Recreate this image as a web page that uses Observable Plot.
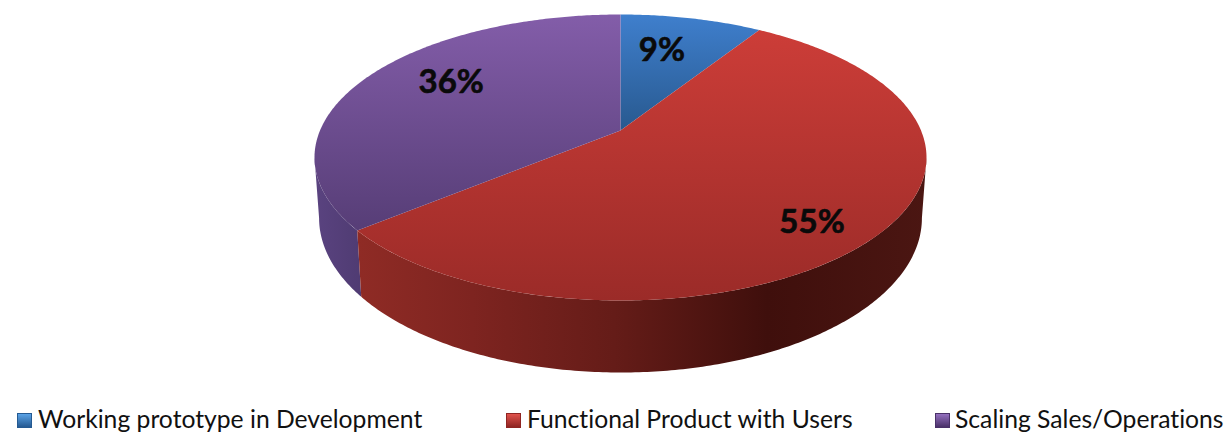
<!DOCTYPE html>
<html>
<head>
<meta charset="utf-8">
<script src="https://cdn.jsdelivr.net/npm/d3@7"></script>
<script src="https://cdn.jsdelivr.net/npm/@observablehq/plot@0.6"></script>
<style>
html,body{margin:0;padding:0;background:#fff;overflow:hidden}
#chart svg{display:block}
#legend{position:relative;height:33px;width:1224px;font-family:Lato,sans-serif;font-size:24.7px;color:#111;font-variant-ligatures:none}
.sw{position:absolute;top:13px;width:15px;height:15px;box-sizing:border-box}
.lb{position:absolute;top:2px;line-height:33px;white-space:nowrap}
</style>
</head>
<body>
<div id="chart"></div>
<div id="legend"></div>
<script>
const categories = ["Working prototype in Development", "Functional Product with Users", "Scaling Sales/Operations"];
const shares = [9, 55, 36];
const labels = ["9%", "55%", "36%"];
const topColors = [["#3f7fcd", "#28598f"], ["#cc3d38", "#9b2b28"], ["#835da9", "#563d76"]];
const gradientSpans = [[14, 130], [30, 300], [14, 232]];
const rimColors = ["#4a8ad6", "#d0544e", "#7f67b4"];
const labelNudge = [[-14, 7], [5, 16], [23, -7]];
const legendX = [[17, 38], [506, 527], [935, 955]];
const swatchColors = [["#5aa2e6", "#255a92"], ["#e0524c", "#8f2522"], ["#9470bf", "#4a3169"]];

// perspective view of the pie disc
const view = {cx: 620, cy: 130, a: 300.5, b: 137.9, k: 0.1888, depth: 72, shrink: 0.985};
const W = 1224, H = 400;
const project = (theta, r = 1) => {
  const u = r * Math.sin(theta), v = r * Math.cos(theta), d = 1 + view.k * v;
  return {x: view.cx + view.a * u / d, y: view.cy - view.b * v / d, d};
};
const lower = (theta) => {
  const p = project(theta);
  return {x: view.cx + (p.x - view.cx) * view.shrink, y: p.y + view.depth * (1 - view.k) / p.d};
};
const arcPts = (t0, t1, f = project) => {
  const n = Math.max(2, Math.ceil(Math.abs(t1 - t0) * 90));
  return d3.range(n + 1).map(i => f(t0 + (t1 - t0) * i / n));
};
const arcs = d3.pie().sort(null).value(d => d)(shares);
const discs = arcs.map(a => [project(0, 0), ...arcPts(a.startAngle, a.endAngle)]);

// visible wall runs between the two silhouette tangents of the disc
const tangentR = Math.PI - Math.acos(view.k);
const tangentL = 2 * Math.PI - tangentR;
const wall = (t0, t1) => [...arcPts(t0, t1), ...arcPts(t1, t0, lower)];
const split = arcs[2].startAngle;
const wallRed = wall(tangentR, split);
const wallPurple = wall(split, tangentL);
const bottomEdge = arcPts(tangentR, tangentL, lower);

const lineOpts = {x: "x", y: "y", curve: "linear"};
const marks = [
  Plot.line(bottomEdge, {...lineOpts, stroke: "#555", strokeWidth: 5, strokeOpacity: 0.45, ariaLabel: "shadow"}),
  Plot.line(wallPurple, {...lineOpts, fill: "url(#wallPurple)", stroke: "none"}),
  Plot.line(wallRed, {...lineOpts, fill: "url(#wallRed)", stroke: "none"}),
  ...discs.map((pts, i) => Plot.line(pts, {...lineOpts, fill: `url(#top${i})`, stroke: "none"})),
  Plot.line(arcPts(tangentR + 0.3, split), {...lineOpts, stroke: rimColors[1], strokeWidth: 2.5, strokeOpacity: 0.7, ariaLabel: "rim"}),
  Plot.line(arcPts(split, tangentL + 0.3), {...lineOpts, stroke: rimColors[2], strokeWidth: 2.5, strokeOpacity: 0.8, ariaLabel: "rim"}),
  ...arcs.map((a, i) => {
    const p = project((a.startAngle + a.endAngle) / 2, 0.75);
    return Plot.text([labels[i]], {
      x: () => p.x, y: () => p.y, text: d => d,
      dx: labelNudge[i][0], dy: labelNudge[i][1],
      fontSize: 33, fontWeight: 700, fontFamily: "Lato, sans-serif", fill: "#0a0a0a",
      stroke: "#0a0a0a", strokeWidth: 0.6
    });
  })
];

const svg = Plot.plot({
  width: W, height: H,
  margin: 0,
  x: {type: "linear", domain: [0, W], range: [0, W], axis: null},
  y: {type: "linear", domain: [0, H], range: [0, H], axis: null},
  marks
});

// gradients used by the marks
const defs = d3.select(svg).insert("defs", ":first-child");
const grad = (id, x1, y1, x2, y2, stops) => {
  const g = defs.append("linearGradient").attr("id", id).attr("gradientUnits", "userSpaceOnUse")
    .attr("x1", x1).attr("y1", y1).attr("x2", x2).attr("y2", y2);
  stops.forEach(([o, c]) => g.append("stop").attr("offset", o).attr("stop-color", c));
};
topColors.forEach((c, i) => grad(`top${i}`, 0, gradientSpans[i][0], 0, gradientSpans[i][1], [[0, c[0]], [1, c[1]]]));
grad("wallRed", 358, 0, 926, 0, [[0, "#8f2b25"], [0.2, "#7e2420"], [0.45, "#651c18"], [0.72, "#3f0f0c"], [1, "#4b1612"]]);
grad("wallPurple", 314, 0, 362, 0, [[0, "#5a4380"], [1, "#4f3b72"]]);
const blur = defs.append("filter").attr("id", "soft").attr("x", "-10%").attr("y", "-10%").attr("width", "120%").attr("height", "120%");
blur.append("feGaussianBlur").attr("stdDeviation", 2);
d3.select(svg).selectAll('g[aria-label="shadow"],g[aria-label="rim"]').attr("filter", "url(#soft)");
document.getElementById("chart").append(svg);

// legend
const legend = d3.select("#legend");
categories.forEach((c, i) => {
  legend.append("div").attr("class", "sw")
    .style("left", legendX[i][0] + "px")
    .style("background", `linear-gradient(180deg, ${swatchColors[i][0]}, ${swatchColors[i][1]})`)
    .style("border", `1px solid ${swatchColors[i][1]}`);
  legend.append("div").attr("class", "lb").style("left", legendX[i][1] + "px").text(c);
});
</script>
</body>
</html>
